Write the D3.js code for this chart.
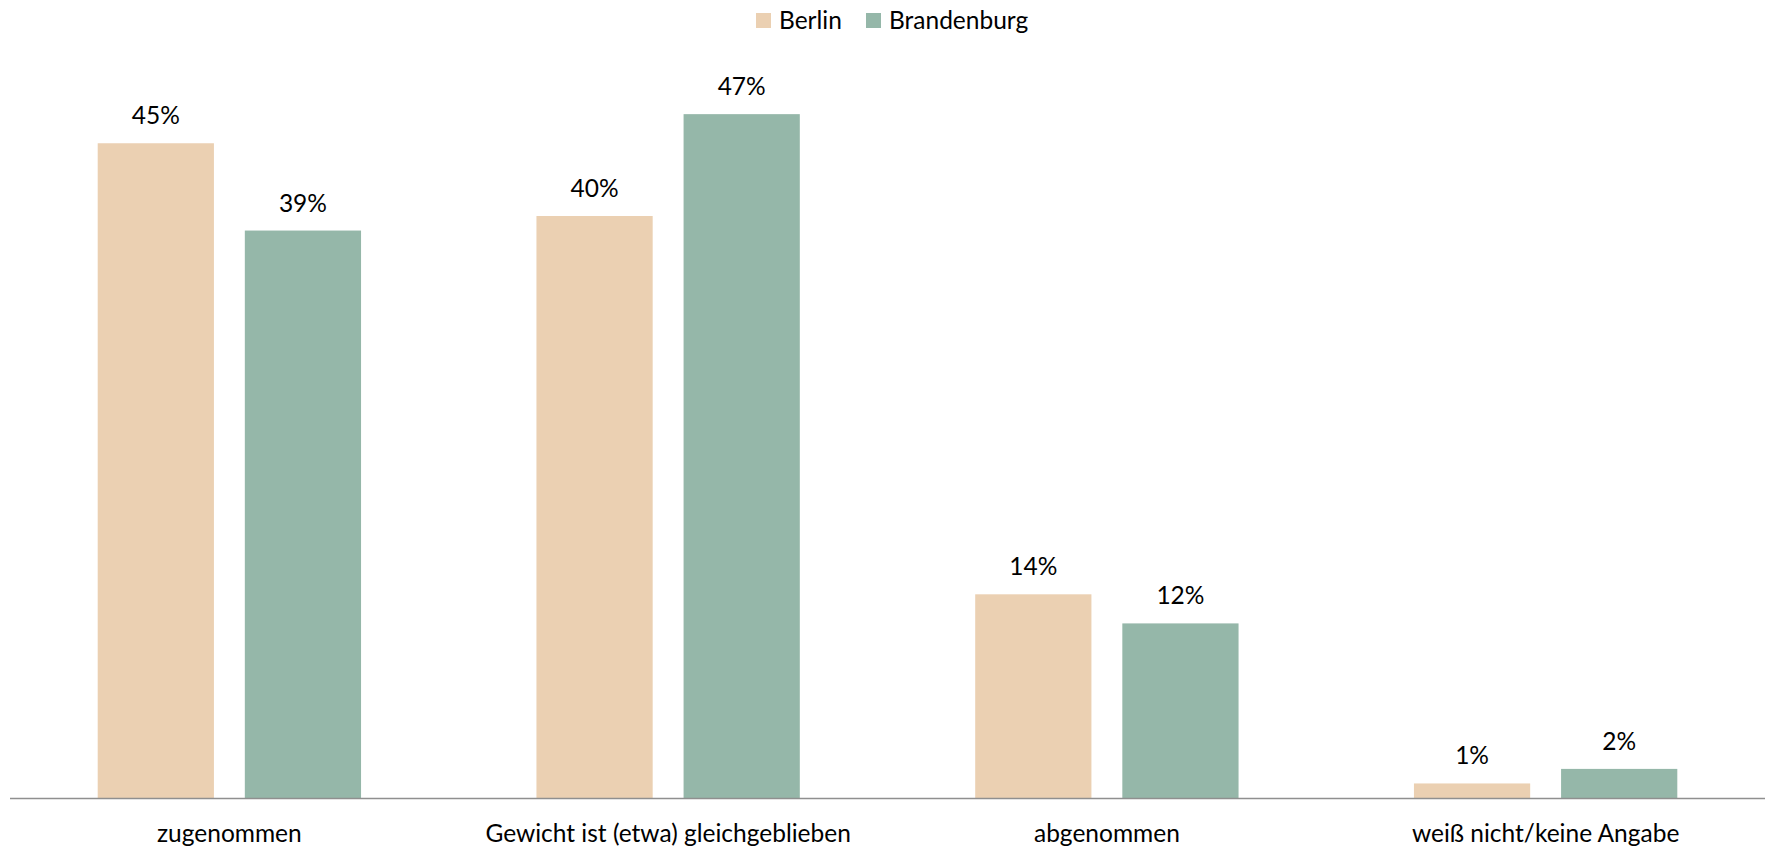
<!DOCTYPE html>
<html>
<head>
<meta charset="utf-8">
<script src="https://cdn.jsdelivr.net/npm/d3@7"></script>
<style>
  html, body { margin: 0; padding: 0; background: #ffffff; }
  svg { display: block; font-family: Lato, "Open Sans", sans-serif; }
</style>
</head>
<body>
<div id="chart"></div>
<script>
// Gewichtsveränderung – Anteile in Prozent
const categories = ["zugenommen", "Gewicht ist (etwa) gleichgeblieben", "abgenommen", "weiß nicht/keine Angabe"];
const seriesNames = ["Berlin", "Brandenburg"];
const berlin = [45, 40, 14, 1];
const brandenburg = [39, 47, 12, 2];
const seriesColors = ["#EBD0B2", "#95B7A9"];

const W = 1771, H = 846;
const FS = 24.5;
const svg = d3.select("#chart").append("svg")
  .attr("width", W).attr("height", H);

const rows = categories.map((c, i) => ({ cat: c, values: [berlin[i], brandenburg[i]] }));

const x0 = d3.scaleBand().domain(categories).range([10, 1765]).paddingInner(0).paddingOuter(0);
const x1 = d3.scaleBand().domain(seriesNames).range([87.7, x0.bandwidth() - 87.7]).paddingInner(0.21).paddingOuter(0);
const y = d3.scaleLinear().domain([0, 50]).range([798, 70.5]);
const color = d3.scaleOrdinal().domain(seriesNames).range(seriesColors);

// bars and value labels
const groups = svg.append("g").selectAll("g").data(rows).join("g")
  .attr("transform", d => `translate(${x0(d.cat)},0)`);

groups.selectAll("rect").data(d => seriesNames.map((s, k) => ({ s, v: d.values[k] })))
  .join("rect")
  .attr("x", d => x1(d.s))
  .attr("width", x1.bandwidth())
  .attr("y", d => y(d.v))
  .attr("height", d => y(0) - y(d.v))
  .attr("fill", d => color(d.s));

groups.selectAll("text").data(d => seriesNames.map((s, k) => ({ s, v: d.values[k] })))
  .join("text")
  .attr("x", d => x1(d.s) + x1.bandwidth() / 2)
  .attr("y", d => y(d.v) - 19)
  .attr("text-anchor", "middle")
  .attr("font-size", FS)
  .attr("fill", "#000")
  .text(d => d.v + "%");

// category axis
const axis = svg.append("g")
  .attr("transform", `translate(0,${y(0)})`)
  .call(d3.axisBottom(x0).tickSize(0).tickPadding(0));
axis.select(".domain").attr("stroke", "#8f8f8f").attr("stroke-width", 1.3)
  .attr("d", `M10,0.5H1765`);
axis.selectAll(".tick text")
  .attr("dy", 0)
  .attr("y", 44)
  .attr("font-size", FS)
  .attr("font-family", "Lato, 'Open Sans', sans-serif")
  .attr("fill", "#000");

// legend
const legendItems = [{ name: "Berlin", x: 756 }, { name: "Brandenburg", x: 866 }];
const legend = svg.append("g").selectAll("g").data(legendItems).join("g")
  .attr("transform", d => `translate(${d.x},13)`);
legend.append("rect").attr("width", 15).attr("height", 15).attr("fill", d => color(d.name));
legend.append("text").attr("x", 23).attr("y", 15.5).attr("font-size", FS).attr("fill", "#000")
  .text(d => d.name);
</script>
</body>
</html>
